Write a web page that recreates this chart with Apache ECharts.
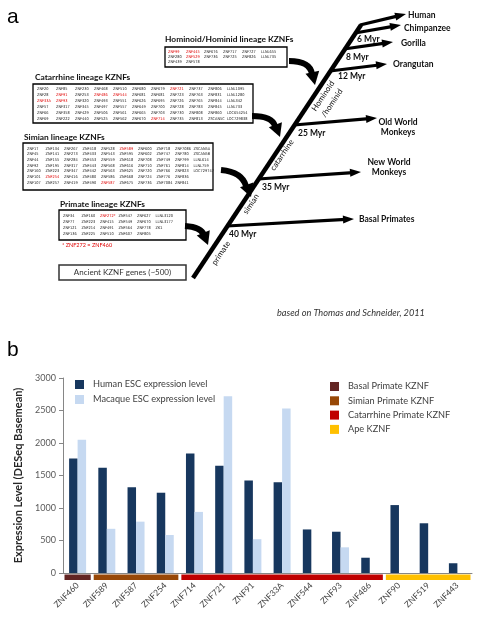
<!DOCTYPE html>
<html><head><meta charset="utf-8">
<script src="https://cdn.jsdelivr.net/npm/echarts@6/dist/echarts.min.js"></script>
<style>html,body{margin:0;padding:0;background:#fff}#c{width:482px;height:617px}</style>
</head><body><div id="c"></div>
<script>
// ---------- Panel b data ----------
const categories = ['ZNF460','ZNF589','ZNF587','ZNF254','ZNF714','ZNF721','ZNF91','ZNF33A','ZNF544','ZNF93','ZNF486','ZNF90','ZNF519','ZNF443'];
const humanValues = [1760,1620,1320,1235,1840,1650,1425,1395,670,635,235,1045,765,150];
const macaqueValues = [2050,680,790,585,940,2720,520,2530,0,395,0,0,0,0];
const seriesNames = ['Human ESC expression level','Macaque ESC expression level'];
const yMin = 0, yMax = 3000, yInterval = 500;
const lineageGroups = ['Basal Primate KZNF','Simian Primate KZNF','Catarrhine Primate KZNF','Ape KZNF'];
const lineageStart = [0,1,4,11];
const lineageEnd = [0,3,10,13];

// ---------- Panel a text data ----------
const hominoidGenes = [
 ['ZNF99','ZNF445','ZNF676','ZNF717','ZNF727','LLNL655'],
 ['ZNF280','ZNF529','ZNF736','ZNF725','ZNF826','LLNL735'],
 ['ZNF439','ZNF578']
];
const catarrhineGenes = [
 ['ZNF20','ZNF85','ZNF230','ZNF468','ZNF510','ZNF680','ZNF679','ZNF721','ZNF737','ZNF806','LLNL1095'],
 ['ZNF28','ZNF91','ZNF253','ZNF486','ZNF544','ZNF681','ZNF681','ZNF723','ZNF763','ZNF831','LLNL1280'],
 ['ZNF33A','ZNF93','ZNF320','ZNF493','ZNF551','ZNF626','ZNF695','ZNF726','ZNF765','ZNF844','LLNL342'],
 ['ZNF57','ZNF317','ZNF345','ZNF497','ZNF557','ZNF649','ZNF700','ZNF728','ZNF783','ZNF845','LLNL733'],
 ['ZNF66','ZNF358','ZNF429','ZNF506','ZNF561','ZNF665','ZNF703','ZNF730','ZNF808','ZNF860','LOC654254'],
 ['ZNF69','ZNF222','ZNF440','ZNF525','ZNF562','ZNF670','ZNF714','ZNF735','ZNF813','ZSCAN5C','LOC729838']
];
const simianGenes = [
 ['ZNF17','ZNF134','ZNF267','ZNF418','ZNF528','ZNF589','ZNF600','ZNF718','ZNF7086','ZSCAN5A'],
 ['ZNF45','ZNF141','ZNF273','ZNF433','ZNF543','ZNF595','ZNF602','ZNF747','ZNF780','ZSCAN5B'],
 ['ZNF44','ZNF155','ZNF284','ZNF453','ZNF559','ZNF618','ZNF708','ZNF749','ZNF799','LLNL614'],
 ['ZNF92','ZNF195','ZNF317','ZNF443','ZNF568','ZNF616','ZNF710','ZNF761','ZNF814','LLNL759'],
 ['ZNF160','ZNF223','ZNF347','ZNF442','ZNF563','ZNF625','ZNF720','ZNF766','ZNF823','LOC729747'],
 ['ZNF101','ZNF254','ZNF416','ZNF480','ZNF586','ZNF668','ZNF724','ZNF776','ZNF836'],
 ['ZNF107','ZNF257','ZNF419','ZNF490','ZNF587','ZNF675','ZNF736','ZNF7084','ZNF841']
];
const primateGenes = [
 ['ZNF34','ZNF160','ZNF272*','ZNF547','ZNF627','LLNL3120'],
 ['ZNF77','ZNF223','ZNF415','ZNF549','ZNF670','LLNL3177'],
 ['ZNF121','ZNF214','ZNF491','ZNF564','ZNF778','ZK1'],
 ['ZNF136','ZNF225','ZNF510','ZNF607','ZNF805']
];
const redGenes = ['ZNF99','ZNF445','ZNF529','ZNF721','ZNF91','ZNF486','ZNF544','ZNF33A','ZNF93','ZNF714','ZNF589','ZNF254','ZNF587','ZNF272*'];

const FONT = 'Lato, "Noto Sans", sans-serif';
const G = [];

function txt(x, y, text, size, opt) {
  opt = opt || {};
  G.push({type:'text', x:x, y:y, rotation: opt.rot || 0, z: 10,
    style:{text:text, fill: opt.color || '#111', align: opt.align || 'left', verticalAlign: opt.va || 'middle',
      font: (opt.style || 'normal') + ' ' + (opt.weight || 'normal') + ' ' + size + 'px ' + (opt.family || FONT)}});
}
function head(x, y, ang, len, wid) {
  const bx = x - len*Math.cos(ang), by = y - len*Math.sin(ang);
  const nx = -Math.sin(ang)*wid/2, ny = Math.cos(ang)*wid/2;
  G.push({type:'polygon', z:5, shape:{points:[[x,y],[bx+nx,by+ny],[bx-nx,by-ny]]}, style:{fill:'#000'}});
}
function arrow(x1, y1, x2, y2, lw) {
  const a = Math.atan2(y2-y1, x2-x1);
  const ex = x2 - 8*Math.cos(a), ey = y2 - 8*Math.sin(a);
  G.push({type:'line', z:5, shape:{x1:x1,y1:y1,x2:ex,y2:ey}, style:{stroke:'#000', lineWidth:lw}});
  head(x2, y2, a, 11, 8);
}
function curve(x1, y1, cx, cy, x2, y2, tx, ty) {
  G.push({type:'bezierCurve', z:5, shape:{x1:x1,y1:y1,x2:x2,y2:y2,cpx1:cx,cpy1:cy}, style:{stroke:'#000', lineWidth:6, fill:null}});
  const a = Math.atan2(ty-cy, tx-cx);
  head(tx, ty, a, 13, 14);
}
function geneBox(x, y, w, h, rows, colX, rowY, title, tx, ty) {
  G.push({type:'rect', shape:{x:x,y:y,width:w,height:h}, style:{fill:'#fff', stroke:'#000', lineWidth:1.3}});
  rows.forEach((r, i) => r.forEach((g, j) => {
    txt(colX[j], rowY[i], g, 3.9, {color: redGenes.indexOf(g) >= 0 ? '#e00000' : '#222', family:'"Liberation Sans Narrow", "DejaVu Sans Condensed", Lato, sans-serif'});
  }));
  txt(tx, ty, title, 8.4, {weight:'bold', color:'#111'});
}
function seq(start, step, n) { const a=[]; for (let i=0;i<n;i++) a.push(start+i*step); return a; }

// panel labels
txt(7, 17, 'a', 21, {color:'#000', family:'"Liberation Sans", Arial, sans-serif'});
txt(7, 350, 'b', 21, {color:'#000', family:'"Liberation Sans", Arial, sans-serif'});

// gene boxes
geneBox(165, 47, 122, 20, hominoidGenes, [168,186,204,223,242,261], [51.5,56.5,61.5], 'Hominoid/Hominid lineage KZNFs', 165, 39.5);
geneBox(33, 84, 220, 39, catarrhineGenes, seq(37,19,11), seq(89,6,6), 'Catarrhine lineage KZNFs', 35, 77);
geneBox(23, 143, 190, 47, simianGenes, seq(27,18.5,10), seq(148.5,5.7,7), 'Simian lineage KZNFs', 24, 137);
geneBox(59, 210, 127, 30, primateGenes, seq(63,18.5,6), seq(216,6,4), 'Primate lineage KZNFs', 60, 204);
txt(62, 245, '* ZNF272 = ZNF460', 5.5, {color:'#e00000'});
G.push({type:'rect', shape:{x:59,y:265,width:127,height:15}, style:{fill:'#fff', stroke:'#333', lineWidth:1.5}});
txt(122.5, 272.5, 'Ancient KZNF genes (~500)', 8, {align:'center', color:'#333'});

// tree trunk
G.push({type:'line', z:5, shape:{x1:193,y1:278,x2:361,y2:25}, style:{stroke:'#000', lineWidth:4.5}});
// branches
arrow(360, 25, 406, 14, 3.2);
arrow(355, 33, 401, 25, 3.2);
arrow(344, 49, 393, 42, 3.2);
arrow(330, 71, 387, 64, 3.2);
arrow(294, 125, 377, 118, 3.2);
arrow(258, 179, 361, 172, 3.2);
arrow(227, 226, 354, 219, 3.2);
// species
txt(408, 15, 'Human', 8.5, {weight:'bold'});
txt(404, 28, 'Chimpanzee', 8.5, {weight:'bold'});
txt(401, 43, 'Gorilla', 8.5, {weight:'bold'});
txt(393, 64.5, 'Orangutan', 8.5, {weight:'bold'});
txt(398, 122, 'Old World', 8.5, {weight:'bold', align:'center'});
txt(398, 132.5, 'Monkeys', 8.5, {weight:'bold', align:'center'});
txt(389, 162, 'New World', 8.5, {weight:'bold', align:'center'});
txt(389, 172.5, 'Monkeys', 8.5, {weight:'bold', align:'center'});
txt(359, 219.5, 'Basal Primates', 8.5, {weight:'bold'});
// Myr
txt(357, 39.5, '6 Myr', 8.5, {weight:'bold'});
txt(346, 57.5, '8 Myr', 8.5, {weight:'bold'});
txt(338, 76.5, '12 Myr', 8.5, {weight:'bold'});
txt(298, 133.5, '25 Myr', 8.5, {weight:'bold'});
txt(262, 187.5, '35 Myr', 8.5, {weight:'bold'});
txt(229, 234, '40 Myr', 8.5, {weight:'bold'});
// lineage labels along trunk
const R = Math.atan2(253, 168);
txt(323, 96, 'Hominoid', 8, {align:'center', rot:R});
txt(332, 103, '/hominid', 8, {align:'center', rot:R});
txt(282, 155, 'catarrhine', 8, {align:'center', rot:R});
txt(251, 204, 'simian', 8, {align:'center', rot:R});
txt(221, 253, 'primate', 8, {align:'center', rot:R});
// curved arrows
curve(289, 61, 310, 61, 312, 74, 315, 85);
curve(252, 116, 272, 116, 275, 126, 280, 137);
curve(221, 170, 242, 172, 246, 186, 251, 197);
curve(185, 226, 201, 227, 204, 235, 208, 245);
// citation
txt(277, 313.5, 'based on Thomas and Schneider, 2011', 9.2, {style:'italic', color:'#333'});

// ---------- Chart ----------
const bandColors = ['#632523','#984807','#c00000','#ffc000'];
const bandSeries = lineageGroups.map((name, i) => ({
  name: name, type:'custom', clip:false, silent:true, z:3,
  itemStyle:{color: bandColors[i]},
  encode:{x:0, y:1},
  data:[[lineageStart[i], 0, lineageEnd[i]]],
  renderItem: function(params, api) {
    const s = api.value(0), e = api.value(2);
    const p0 = api.coord([s, 0]), p1 = api.coord([e, 0]);
    const w = api.size([1, 0])[0];
    return {type:'rect', shape:{x:p0[0]-w/2+1.5, y:p0[1]+1.5, width:p1[0]-p0[0]+w-3, height:5.5},
      style:{fill: api.visual('color')}};
  }
}));

const chart = echarts.init(document.getElementById('c'), null, {renderer:'canvas'});
chart.setOption({
  animation:false,
  backgroundColor:'#fff',
  textStyle:{fontFamily: FONT},
  grid:{left:63, right:10, top:378, bottom:44, containLabel:false},
  legend:[
    {data: seriesNames, orient:'vertical', left:75, top:380, padding:0, itemGap:6, itemWidth:9, itemHeight:9,
     selectedMode:false, icon:'rect', textStyle:{fontSize:9.2, color:'#404040', fontFamily:FONT, padding:[0,0,0,4]}},
    {data: lineageGroups, orient:'vertical', left:330, top:382, padding:0, itemGap:5.3, itemWidth:9, itemHeight:9,
     selectedMode:false, icon:'rect', textStyle:{fontSize:9.2, color:'#404040', fontFamily:FONT, padding:[0,0,0,4]}}
  ],
  xAxis:{type:'category', data: categories,
    axisLine:{lineStyle:{color:'#868686', width:1}}, axisTick:{show:false},
    axisLabel:{rotate:45, margin:11, fontSize:8.5, color:'#404040', fontFamily:FONT, interval:0}},
  yAxis:{type:'value', min:yMin, max:yMax, interval:yInterval,
    name:'Expression Level (DESeq Basemean)', nameLocation:'middle', nameGap:36,
    nameTextStyle:{fontSize:11, fontWeight:'bold', color:'#262626', fontFamily:FONT},
    axisLine:{show:true, lineStyle:{color:'#868686'}}, axisTick:{show:true, length:4, lineStyle:{color:'#868686'}},
    splitLine:{show:false},
    axisLabel:{fontSize:9, color:'#595959', margin:7, fontFamily:FONT, formatter: v => String(v)}},
  series:[
    {name: seriesNames[0], type:'bar', data: humanValues, itemStyle:{color:'#17375e'}, barWidth:8.5, barGap:'0%'},
    {name: seriesNames[1], type:'bar', data: macaqueValues, itemStyle:{color:'#c6d9f1'}, barWidth:8.5, barGap:'0%'}
  ].concat(bandSeries),
  graphic: G
});
</script></body></html>
